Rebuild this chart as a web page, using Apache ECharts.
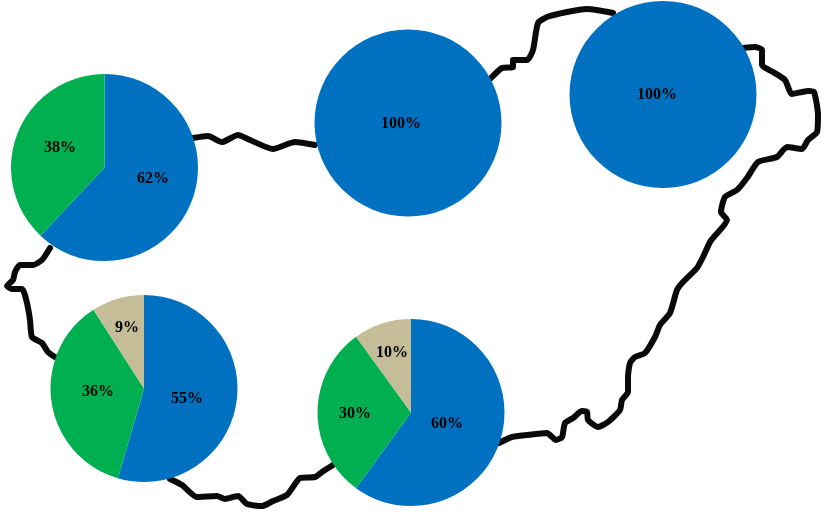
<!DOCTYPE html>
<html>
<head>
<meta charset="utf-8">
<style>html,body{margin:0;padding:0;background:#fff}#c{width:840px;height:520px}</style>
<script src="https://cdn.jsdelivr.net/npm/echarts@6/dist/echarts.min.js"></script>
</head>
<body>
<div id="c"></div>
<script>
// Slice categories and values for each region (percent)
const categories = ['Blue', 'Green', 'Tan'];
const regionNW = [62, 38];
const regionN = [100];
const regionNE = [100];
const regionSW = [54.5, 36.4, 9.1];
const regionS = [60, 30, 10];

// Map outline pieces, in picture units
const outlineWest = [[50,248],[42,260],[33,265],[20,265],[15,272],[13,280],[7,286],[12,289],[22,289],[27,303],[30,320],[32,337],[42,343],[48,352],[55,357]];
const outlineSouth = [[170,479],[182,485],[197,497],[217,496],[225,499],[238,496],[247,504],[262,506],[273,501],[287,495],[293,487],[300,478],[315,477],[322,472],[333,465]];
const outlineEast = [[499,443],[512,437],[527,435],[547,433],[556,440],[562,437],[565,423],[573,418],[582,411],[587,412],[588,420],[598,427],[608,422],[620,410],[622,400],[628,392],[628,377],[630,363],[635,357],[645,353],[655,337],[660,325],[670,313],[677,290],[683,282],[697,268],[703,257],[710,242],[713,238],[727,220],[721,212],[725,197],[737,190],[747,178],[758,162],[777,157],[787,147],[802,149],[808,140],[817,132],[818,115],[814,92],[808,91],[792,94],[785,80],[773,72],[762,65],[762,50],[755,47],[743,48]];
const outlineNorthEast = [[490,79],[502,68],[513,67],[513,60],[527,60],[533,50],[538,23],[547,17],[567,12],[587,9],[613,13]];
const outlineNorth = [[193,138],[208,136],[222,142],[238,135],[250,140],[273,149],[295,142],[315,145]];
const outlines = [outlineWest, outlineSouth, outlineEast, outlineNorthEast, outlineNorth];

const colors = ['#0070C0', '#00B050', '#C4BD97'];
const pies = [
  { values: regionNW, center: [104.5, 167.5], labels: [[153,179],[60,148]] },
  { values: regionN,  center: [408, 123],     labels: [[401,124]] },
  { values: regionNE, center: [663, 94.5],    labels: [[657,95]] },
  { values: regionSW, center: [144, 388.5],   labels: [[187,399],[98,392],[127,328]] },
  { values: regionS,  center: [411, 412.5],   labels: [[447,424],[355,414],[392,353]] }
];

const series = outlines.map(o => ({
  type: 'line', data: o, symbol: 'none', smooth: 0.2, silent: true, z: 1,
  lineStyle: { color: '#0a0a0a', width: 6, cap: 'round', join: 'round' }
}));
pies.forEach(p => {
  series.push({
    type: 'pie', center: p.center, radius: [0, 93.5], startAngle: 90, clockwise: true,
    silent: true, z: 5, animation: false,
    data: p.values.map((v, i) => ({ name: categories[i], value: v, itemStyle: { color: colors[i] } })),
    label: {
      show: true, position: 'inner', formatter: params => Math.round(params.value) + '%', color: '#000',
      fontFamily: 'Liberation Serif', fontWeight: 'bold', fontSize: 16
    },
    labelLine: { show: false },
    labelLayout: params => ({
      x: p.labels[params.dataIndex][0], y: p.labels[params.dataIndex][1],
      align: 'center', verticalAlign: 'middle'
    })
  });
});

const chart = echarts.init(document.getElementById('c'), null, { renderer: 'canvas' });
chart.setOption({
  animation: false,
  backgroundColor: '#fff',
  grid: { left: 0, right: 0, top: 0, bottom: 0 },
  xAxis: { type: 'value', min: 0, max: 840, show: false },
  yAxis: { type: 'value', min: 0, max: 520, inverse: true, show: false },
  series
});
</script>
</body>
</html>
